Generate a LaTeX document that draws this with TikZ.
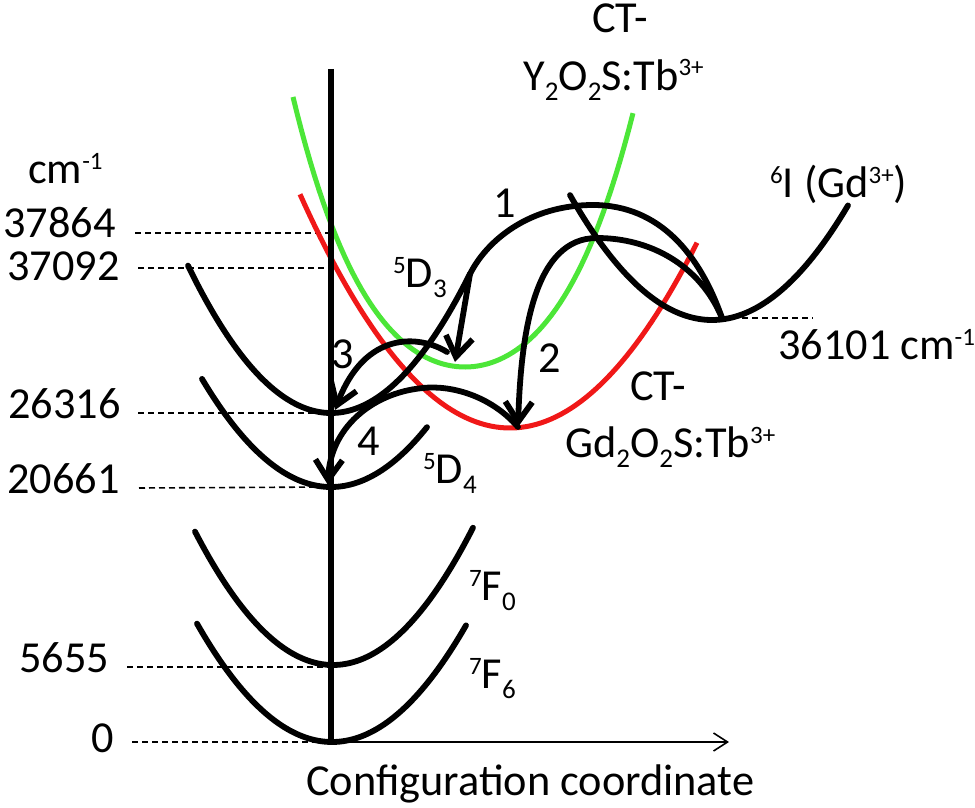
\documentclass[tikz,border=0pt]{standalone}
\usepackage{fontspec}
\setmainfont{Carlito}
\usetikzlibrary{arrows.meta}
\definecolor{cgreen}{RGB}{76,230,56}
\definecolor{cred}{RGB}{240,24,24}
\newcommand\mysup[1]{\raisebox{14pt}{\fontsize{25}{29}\selectfont #1}}
\newcommand\mysub[1]{\raisebox{-10pt}{\fontsize{27}{31}\selectfont #1}}
\begin{document}
\begin{tikzpicture}[x=1pt,y=-1pt,
  curve/.style={line width=5.8pt,line cap=round},
  ccurve/.style={line width=5pt},
  lvl/.style={line width=1.6pt,dash pattern=on 6pt off 4pt},
  barb/.style={-{Straight Barb[length=20pt,width=27pt]}},
  lbl/.style={inner sep=0pt,anchor=base west,font=\fontsize{44.3}{52}\selectfont},
  samples=80]
\useasboundingbox (0,0) rectangle (975,808);
% key points
\coordinate (v5D3) at (331,413);
\coordinate (v5D4) at (331,487);
\coordinate (v7F0) at (333,665);
\coordinate (o) at (331,742);
\coordinate (axtop) at (331,69);
\coordinate (axend) at (729,742);
\coordinate (v6I) at (722,318);
\coordinate (j1) at (470,274);
\coordinate (top1) at (593,205);
\coordinate (t1) at (455,362);
\coordinate (top2) at (597,238);
\coordinate (t2) at (518,427);
\coordinate (s3) at (447,352);
\coordinate (t3) at (335,410);
\coordinate (top4) at (423,388);
\coordinate (t4) at (328,485);
% level dashed lines
\draw[lvl] (135,233) -- (331,233);
\draw[lvl] (138,268) -- (331,268);
\draw[lvl] (138,413) -- (v5D3);
\draw[lvl] (139,488) -- (v5D4);
\draw[lvl] (127,667) -- (331,667);
\draw[lvl] (132,742) -- (o);
\draw[lvl] (v6I) -- (813,318);
% coloured CT curves
\draw[ccurve,cgreen,domain=293:633] plot (\x,{367-(0.0787*abs(\x-465))^2-(0.01774*abs(\x-465))^4});
\draw[ccurve,cred,domain=300:697] plot (\x,{428-(0.0728*abs(\x-510))^2});
% black parabolas
\draw[curve,domain=188:470] plot (\x,{413-(0.0849*abs(\x-331))^2});
\draw[curve,domain=202:427] plot (\x,{487-(0.0806*abs(\x-331))^2});
\draw[curve,domain=195:473] plot (\x,{665-(0.0837*abs(\x-333))^2});
\draw[curve,domain=197:466] plot (\x,{742-(0.0806*abs(\x-332))^2});
\draw[curve,domain=570:848] plot (\x,{320-(0.0787*abs(\x-712))^2});
% transitions
\draw[curve] (j1) .. controls (487,240) and (530,205) .. (top1) .. controls (660,205) and (700,255) .. (v6I);
\draw[curve,barb] (j1) -- (t1);
\draw[curve,barb] (v6I) .. controls (700,265) and (650,238) .. (top2) .. controls (535,238) and (521,330) .. (t2);
\draw[curve,barb] (s3) .. controls (420,335) and (365,330) .. (t3);
\draw[curve,barb] (t2) .. controls (490,395) and (450,385) .. (top4) .. controls (370,393) and (330,430) .. (t4);
% axes
\draw[line width=5.2pt] (axtop) -- (o);
\draw[line width=1.6pt,-{Straight Barb[length=14pt,width=18pt]}] (o) -- (axend);
% labels
\node[lbl] (lcm) at (28,183) {cm\mysup{-1}};
\node[lbl] (l1) at (3,237) {37864};
\node[lbl] (l2) at (7,280) {37092};
\node[lbl] (l3) at (8,418) {26316};
\node[lbl] (l4) at (7,493) {20661};
\node[lbl] (l5) at (19,672) {5655};
\node[lbl] (l6) at (91,752) {0};
\node[lbl] (ct1) at (592,33) {CT-};
\node[lbl] (ct1b) at (523,90) {Y\mysub{2}O\mysub{2}S:Tb\mysup{3+}};
\node[lbl] (n1) at (493,217) {1};
\node[lbl] (n2) at (538,372) {2};
\node[lbl] (n3) at (331,368) {3};
\node[lbl] (n4) at (357,455) {4};
\node[lbl] (gd) at (770,197) {\mysup{6}I (Gd\mysup{3+})};
\node[lbl] (lv6) at (778,359) {36101 cm\mysup{-1}};
\node[lbl] (ct2) at (630,400) {CT-};
\node[lbl] (ct2b) at (565,457) {Gd\mysub{2}O\mysub{2}S:Tb\mysup{3+}};
\node[lbl] (d3) at (393,287) {\mysup{5}D\mysub{3}};
\node[lbl] (d4) at (423,483) {\mysup{5}D\mysub{4}};
\node[lbl] (f0) at (469,600) {\mysup{7}F\mysub{0}};
\node[lbl] (f6) at (469,688) {\mysup{7}F\mysub{6}};
\node[lbl] (xl) at (306,795) {Configuration coordinate};
\end{tikzpicture}
\end{document}
